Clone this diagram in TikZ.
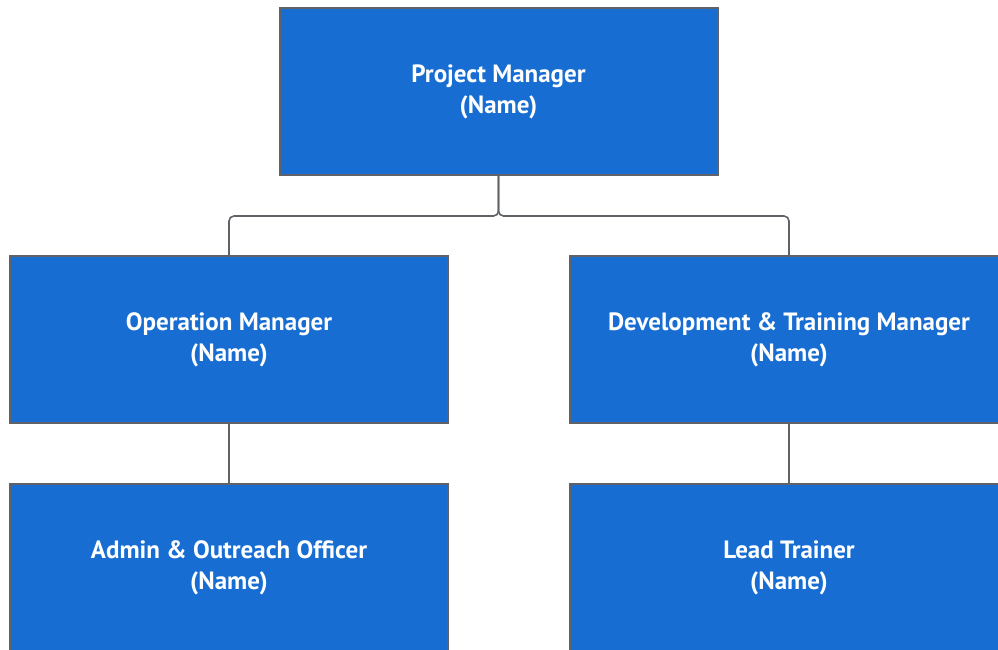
\documentclass[tikz,border=0pt]{standalone}
\usepackage{fontspec}
\setmainfont{PT Sans}
\usetikzlibrary{positioning}
\definecolor{boxblue}{RGB}{23,109,210}
\definecolor{edgegray}{RGB}{95,99,104}

\begin{document}
\begin{tikzpicture}[x=1pt, y=-1pt,
  box/.style={rectangle, draw=edgegray, line width=2pt, fill=boxblue,
              minimum width=438pt, minimum height=167pt, align=center,
              text=white, font=\fontsize{25}{31}\selectfont\bfseries},
  ln/.style={draw=edgegray, line width=1.6pt, rounded corners=5pt}
]
\useasboundingbox (0,0) rectangle (998,650);
\clip (0,0) rectangle (998,650);
\node[box] (pm)  at (498.5, 91.5) {Project Manager\\(Name)};
\node[box] (om)  at (229, 339.5)  {Operation Manager\\(Name)};
\node[box] (dtm) at (789, 339.5)  {Development \& Training Manager\\(Name)};
\node[box] (aoo) at (229, 567.5)  {Admin \& Outreach Officer\\(Name)};
\node[box] (lt)  at (789, 567.5)  {Lead Trainer\\(Name)};

\draw[ln] (pm.south) -- ++(0,40) -| (om.north);
\draw[ln] (pm.south) -- ++(0,40) -| (dtm.north);
\draw[ln] (om.south) -- (aoo.north);
\draw[ln] (dtm.south) -- (lt.north);
\end{tikzpicture}
\end{document}
